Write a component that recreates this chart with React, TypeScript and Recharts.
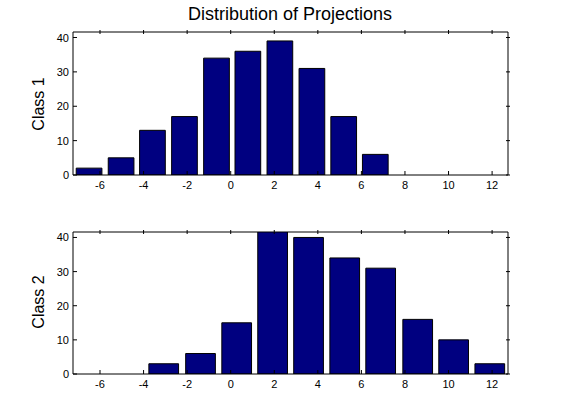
import React from 'react'
import { BarChart, Bar, XAxis, YAxis } from 'recharts'

const class1Centers = [-6.51, -5.04, -3.6, -2.13, -0.66, 0.78, 2.25, 3.72, 5.18, 6.63]
const class1Counts = [2, 5, 13, 17, 34, 36, 39, 31, 17, 6]
const class2Centers = [-3.07, -1.38, 0.28, 1.93, 3.58, 5.24, 6.89, 8.59, 10.24, 11.9]
const class2Counts = [3, 6, 15, 42, 40, 34, 31, 16, 10, 3]
const xTicks = [-6, -4, -2, 0, 2, 4, 6, 8, 10, 12]
const yTicks = [0, 10, 20, 30, 40]

const FONT = 'Liberation Sans, Arial, sans-serif'

function BottomTick({ x, y, payload }: any) {
    return (
        <g>
            <line x1={x} x2={x} y1={y} y2={y - 4} stroke="#000" />
            <text x={x} y={y + 14} textAnchor="middle" fontSize={11} fontFamily={FONT} fill="#000">{payload.value}</text>
        </g>
    )
}
function LeftTick({ x, y, payload }: any) {
    return (
        <g>
            <line x1={x} x2={x + 4} y1={y} y2={y} stroke="#000" />
            <text x={x - 4} y={y + 4} textAnchor="end" fontSize={11} fontFamily={FONT} fill="#000">{payload.value}</text>
        </g>
    )
}
function TopTick({ x, y }: any) {
    return <line x1={x} x2={x} y1={y} y2={y + 4} stroke="#000" />
}
function RightTick({ x, y }: any) {
    return <line x1={x} x2={x - 4} y1={y} y2={y} stroke="#000" />
}

function Panel({ centers, counts, barSize, height, marginBottom }: any) {
    const data = centers.map((c: number, i: number) => ({ x: c, count: counts[i] }))
    return (
        <BarChart width={561} height={height} data={data}
            margin={{ top: 31, right: 52, bottom: marginBottom, left: 43 }}>
            <XAxis xAxisId="b" type="number" dataKey="x" domain={[-7.24, 12.73]} ticks={xTicks}
                allowDataOverflow tickSize={0} tickMargin={0} tick={<BottomTick />} height={20} stroke="#000" interval={0} />
            <XAxis xAxisId="t" orientation="top" type="number" dataKey="x" domain={[-7.24, 12.73]} ticks={xTicks}
                allowDataOverflow tickSize={0} tick={<TopTick />} height={1} stroke="#000" interval={0} />
            <YAxis yAxisId="l" domain={[0, 41.6]} ticks={yTicks} allowDataOverflow tickSize={0} tickMargin={0}
                tick={<LeftTick />} width={30} stroke="#000" interval={0} />
            <YAxis yAxisId="r" orientation="right" domain={[0, 41.6]} ticks={yTicks} allowDataOverflow tickSize={0}
                tick={<RightTick />} width={1} stroke="#000" interval={0} />
            <Bar xAxisId="b" yAxisId="l" dataKey="count" barSize={barSize} fill="#000080" stroke="#000"
                strokeWidth={1} isAnimationActive={false} />
        </BarChart>
    )
}

export default function App() {
    return (
        <div style={{ position: 'absolute', left: 0, top: 0, width: 561, height: 420, background: '#fff', fontFamily: FONT }}>
            <div style={{ position: 'absolute', left: 0, top: 0 }}>
                <Panel centers={class1Centers} counts={class1Counts} barSize={25.7} height={200} marginBottom={5} />
            </div>
            <div style={{ position: 'absolute', left: 0, top: 200 }}>
                <Panel centers={class2Centers} counts={class2Counts} barSize={29.7} height={220} marginBottom={26} />
            </div>
            <svg width={561} height={420} style={{ position: 'absolute', left: 0, top: 0, pointerEvents: 'none' }}>
                <text x={290} y={20} textAnchor="middle" fontSize={18} fontFamily={FONT}>Distribution of Projections</text>
                <text transform="translate(44,104) rotate(-90)" textAnchor="middle" fontSize={16} fontFamily={FONT}>Class 1</text>
                <text transform="translate(44,302) rotate(-90)" textAnchor="middle" fontSize={16} fontFamily={FONT}>Class 2</text>
            </svg>
        </div>
    )
}
